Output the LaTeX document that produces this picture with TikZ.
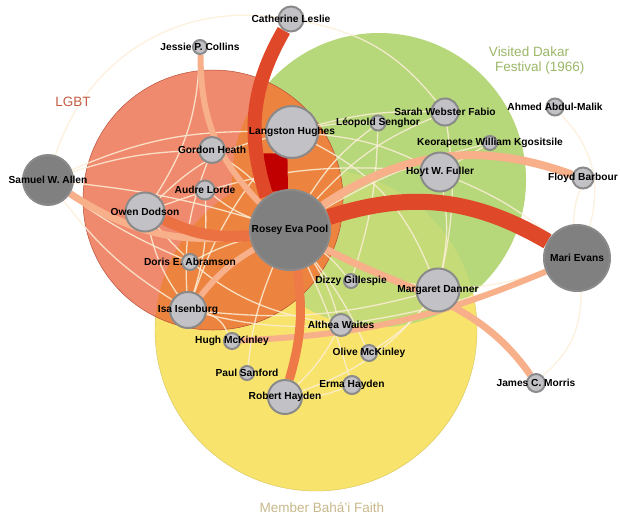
\documentclass[tikz,border=0pt]{standalone}
\usepackage{fontspec}
\setmainfont{Liberation Sans}
\usetikzlibrary{positioning}
\pgfdeclarelayer{sets}
\pgfdeclarelayer{ties}
\pgfsetlayers{sets,ties,main}
\definecolor{lgbtred}{HTML}{F08A6E}
\definecolor{lgbtedge}{HTML}{B8503A}
\definecolor{dakargreen}{HTML}{B6D77A}
\definecolor{bahaiyellow}{HTML}{F8E46C}
\definecolor{mixorange}{HTML}{EC8440}
\definecolor{mixgreen}{HTML}{C4DB78}
\definecolor{nodefill}{HTML}{C2C2C6}
\definecolor{hubfill}{HTML}{808080}
\definecolor{nodeedge}{HTML}{8A8A8A}
\definecolor{peach}{HTML}{F8B08A}
\definecolor{cream}{HTML}{FCEED6}
\definecolor{tiered}{HTML}{E0482A}
\definecolor{tiedark}{HTML}{C00000}
\definecolor{tieorange}{HTML}{EE7A48}
\definecolor{bahaitext}{HTML}{C8B88A}
\tikzset{
  pers/.style={circle, draw=nodeedge, line width=2pt, fill=nodefill, inner sep=0pt, minimum size=#1},
  hub/.style={pers=#1, fill=hubfill},
  lbl/.style={font=\bfseries\fontsize{10.2}{12}\selectfont, text=black, inner sep=0pt},
  setname/.style={font=\fontsize{13.5}{15}\selectfont},
  tie/.style={line width=#1, draw=peach},
  faint/.style={line width=1.3pt, draw=cream, opacity=0.85},
}
\begin{document}
\begin{tikzpicture}[x=1pt, y=1pt]
  \useasboundingbox (0,0) rectangle (620,-517);
  \path
    (290,-230) node[hub=80, label={[lbl]center:Rosey Eva Pool}] (pool){}
    (292,-132) node[pers=52, label={[lbl]center:Langston Hughes}] (hughes){}
    (291,-19) node[pers=25, label={[lbl]center:Catherine Leslie}] (leslie){}
    (200,-47) node[pers=14, label={[lbl]center:Jessie P. Collins}] (jessie){}
    (212,-150) node[pers=26, label={[lbl]center:Gordon Heath}] (heath){}
    (205,-190) node[pers=19, label={[lbl]center:Audre Lorde}] (lorde){}
    (48,-180) node[hub=50, label={[lbl]center:Samuel W. Allen}] (allen){}
    (145,-212) node[pers=39, label={[lbl]center:Owen Dodson}] (dodson){}
    (190,-262) node[pers=16, label={[lbl]center:Doris E. Abramson}] (abramson){}
    (188,-310) node[pers=36, label={[lbl]center:Isa Isenburg}] (isa){}
    (232,-341) node[pers=16, label={[lbl]center:Hugh McKinley}] (hughmck){}
    (247,-373) node[pers=14, label={[lbl]center:Paul Sanford}] (sanford){}
    (285,-397) node[pers=34, label={[lbl]center:Robert Hayden}] (rhayden){}
    (352,-385) node[pers=18, label={[lbl]center:Erma Hayden}] (ehayden){}
    (369,-353) node[pers=16, label={[lbl]center:Olive McKinley}] (olive){}
    (341,-325) node[pers=22, label={[lbl]center:Althea Waites}] (waites){}
    (351,-281) node[pers=14, label={[lbl]center:Dizzy Gillespie}] (gillespie){}
    (438,-290) node[pers=43, label={[lbl]center:Margaret Danner}] (danner){}
    (536,-383) node[pers=18, label={[lbl]center:James C. Morris}] (morris){}
    (577,-258) node[hub=66, label={[lbl]center:Mari Evans}] (evans){}
    (440,-172) node[pers=39, label={[lbl]center:Hoyt W. Fuller}] (fuller){}
    (583,-178) node[pers=21, label={[lbl]center:Floyd Barbour}] (barbour){}
    (490,-143) node[pers=14, label={[lbl]center:Keorapetse William Kgositsile}] (kgositsile){}
    (445,-112) node[pers=27, label={[lbl]center:Sarah Webster Fabio}] (fabio){}
    (555,-107) node[pers=17, label={[lbl]center:Ahmed Abdul-Malik}] (malik){}
    (378,-123) node[pers=15, label={[lbl]center:Léopold Senghor}] (senghor){};
  % set circles
  \begin{pgfonlayer}{sets}
    \fill[bahaiyellow] (316,-330) circle[radius=161pt];
    \draw[bahaiyellow!85!black, line width=0.4pt] (316,-330) circle[radius=161pt];
    \fill[dakargreen] (379,-180) circle[radius=147pt];
    \begin{scope}
      \clip (316,-330) circle[radius=161pt];
      \fill[mixgreen] (379,-180) circle[radius=147pt];
    \end{scope}
    \fill[lgbtred] (213,-200) circle[radius=130pt];
    \begin{scope}
      \clip (213,-200) circle[radius=130pt];
      \fill[mixorange] (379,-180) circle[radius=147pt];
      \fill[mixorange] (316,-330) circle[radius=161pt];
    \end{scope}
    \draw[lgbtedge, line width=0.5pt] (213,-200) circle[radius=130pt];
  \end{pgfonlayer}
  \node[setname, text=lgbtedge!80!lgbtred] (lgbtname) at (73,-102) {LGBT};
  \node[setname, text=dakargreen!85!black, align=center] (dakarname) at (529,-61)
    {Visited Dakar\\\hspace*{1.6em}Festival (1966)};
  \node[setname, text=bahaitext] (bahainame) at (322,-508) {Member Bahá'i Faith};
  % ties
  \begin{pgfonlayer}{ties}
    \begin{scope}[faint]
      \draw (allen) to[bend left=40] (leslie);
      \draw (allen) to[bend left=12] (hughes);
      \draw (allen) to[bend left=8] (heath);
      \draw (allen) to[bend right=10] (isa);
      \draw (allen) to[bend right=6] (abramson);
      \draw (allen) to[bend left=5] (pool);
      \draw (hughes) to[bend right=15] (dodson);
      \draw (hughes) to[bend right=10] (isa);
      \draw (hughes) to[bend left=10] (fuller);
      \draw (hughes) to[bend left=8] (fabio);
      \draw (hughes) to[bend left=20] (danner);
      \draw (hughes) to[bend left=6] (senghor);
      \draw (heath) to[bend left=10] (pool);
      \draw (heath) to[bend right=12] (isa);
      \draw (lorde) to[bend right=8] (pool);
      \draw (lorde) to[bend left=10] (isa);
      \draw (dodson) to[bend right=10] (isa);
      \draw (dodson) to[bend right=20] (waites);
      \draw (dodson) to[bend left=12] (fuller);
      \draw (abramson) to[bend left=6] (pool);
      \draw (isa) to[bend right=10] (danner);
      \draw (isa) to[bend right=8] (waites);
      \draw (isa) to[bend left=25] (hughmck);
      \draw (pool) to[bend left=6] (gillespie);
      \draw (pool) to[bend left=8] (waites);
      \draw (pool) to[bend left=6] (olive);
      \draw (pool) to[bend right=8] (sanford);
      \draw (pool) to[bend left=4] (ehayden);
      \draw (pool) to[bend left=12] (fabio);
      \draw (pool) to[bend left=8] (kgositsile);
      \draw (senghor) to[bend right=10] (pool);
      \draw (senghor) to[bend left=8] (gillespie);
      \draw (rhayden) to[bend right=10] (ehayden);
      \draw (rhayden) to[bend right=15] (danner);
      \draw (rhayden) to[bend right=8] (waites);
      \draw (fuller) to[bend left=10] (danner);
      \draw (fuller) to[bend left=8] (evans);
      \draw (fuller) to (kgositsile);
      \draw (fabio) to[bend left=10] (danner);
      \draw (evans) to[bend left=10] (barbour);
      \draw (evans) to[bend left=25] (morris);
      \draw (evans) to[bend left=8] (danner);
      \draw (evans) to[bend left=6] (waites);
      \draw (evans) to[bend right=30] (malik);
      \draw (danner) to[bend right=8] (gillespie);
      \draw (danner) to[bend left=8] (olive);
      \draw (leslie) to[bend left=20] (fabio);
      \draw (jessie) to[bend left=15] (dodson);
    \end{scope}
    \draw[tie=6pt] (isa) to[bend left=10] (pool);
    \draw[tie=6pt] (evans) to[bend left=10] (hughmck);
    \draw[tie=6pt] (jessie) to[bend right=22] (pool);
    \draw[tie=7pt] (allen) to[bend right=20] (pool);
    \draw[tie=7pt] (pool) to[out=-28, in=125] (morris);
    \draw[tie=8pt] (pool) to[bend left=27] (barbour);
    \draw[tie=9pt, draw=tieorange] (pool) to[bend left=12] (rhayden);
    \draw[tie=11pt, draw=tieorange!80!tiered] (dodson) to[bend right=15] (pool);
    \draw[tie=24pt, draw=tiedark] (hughes.232) to (pool.110);
    \draw[tie=14pt, draw=tiered] (leslie) to[bend right=24] (pool.125);
    \draw[tie=16pt, draw=tiered] (pool) to[bend left=24] (evans);
  \end{pgfonlayer}
\end{tikzpicture}
\end{document}
